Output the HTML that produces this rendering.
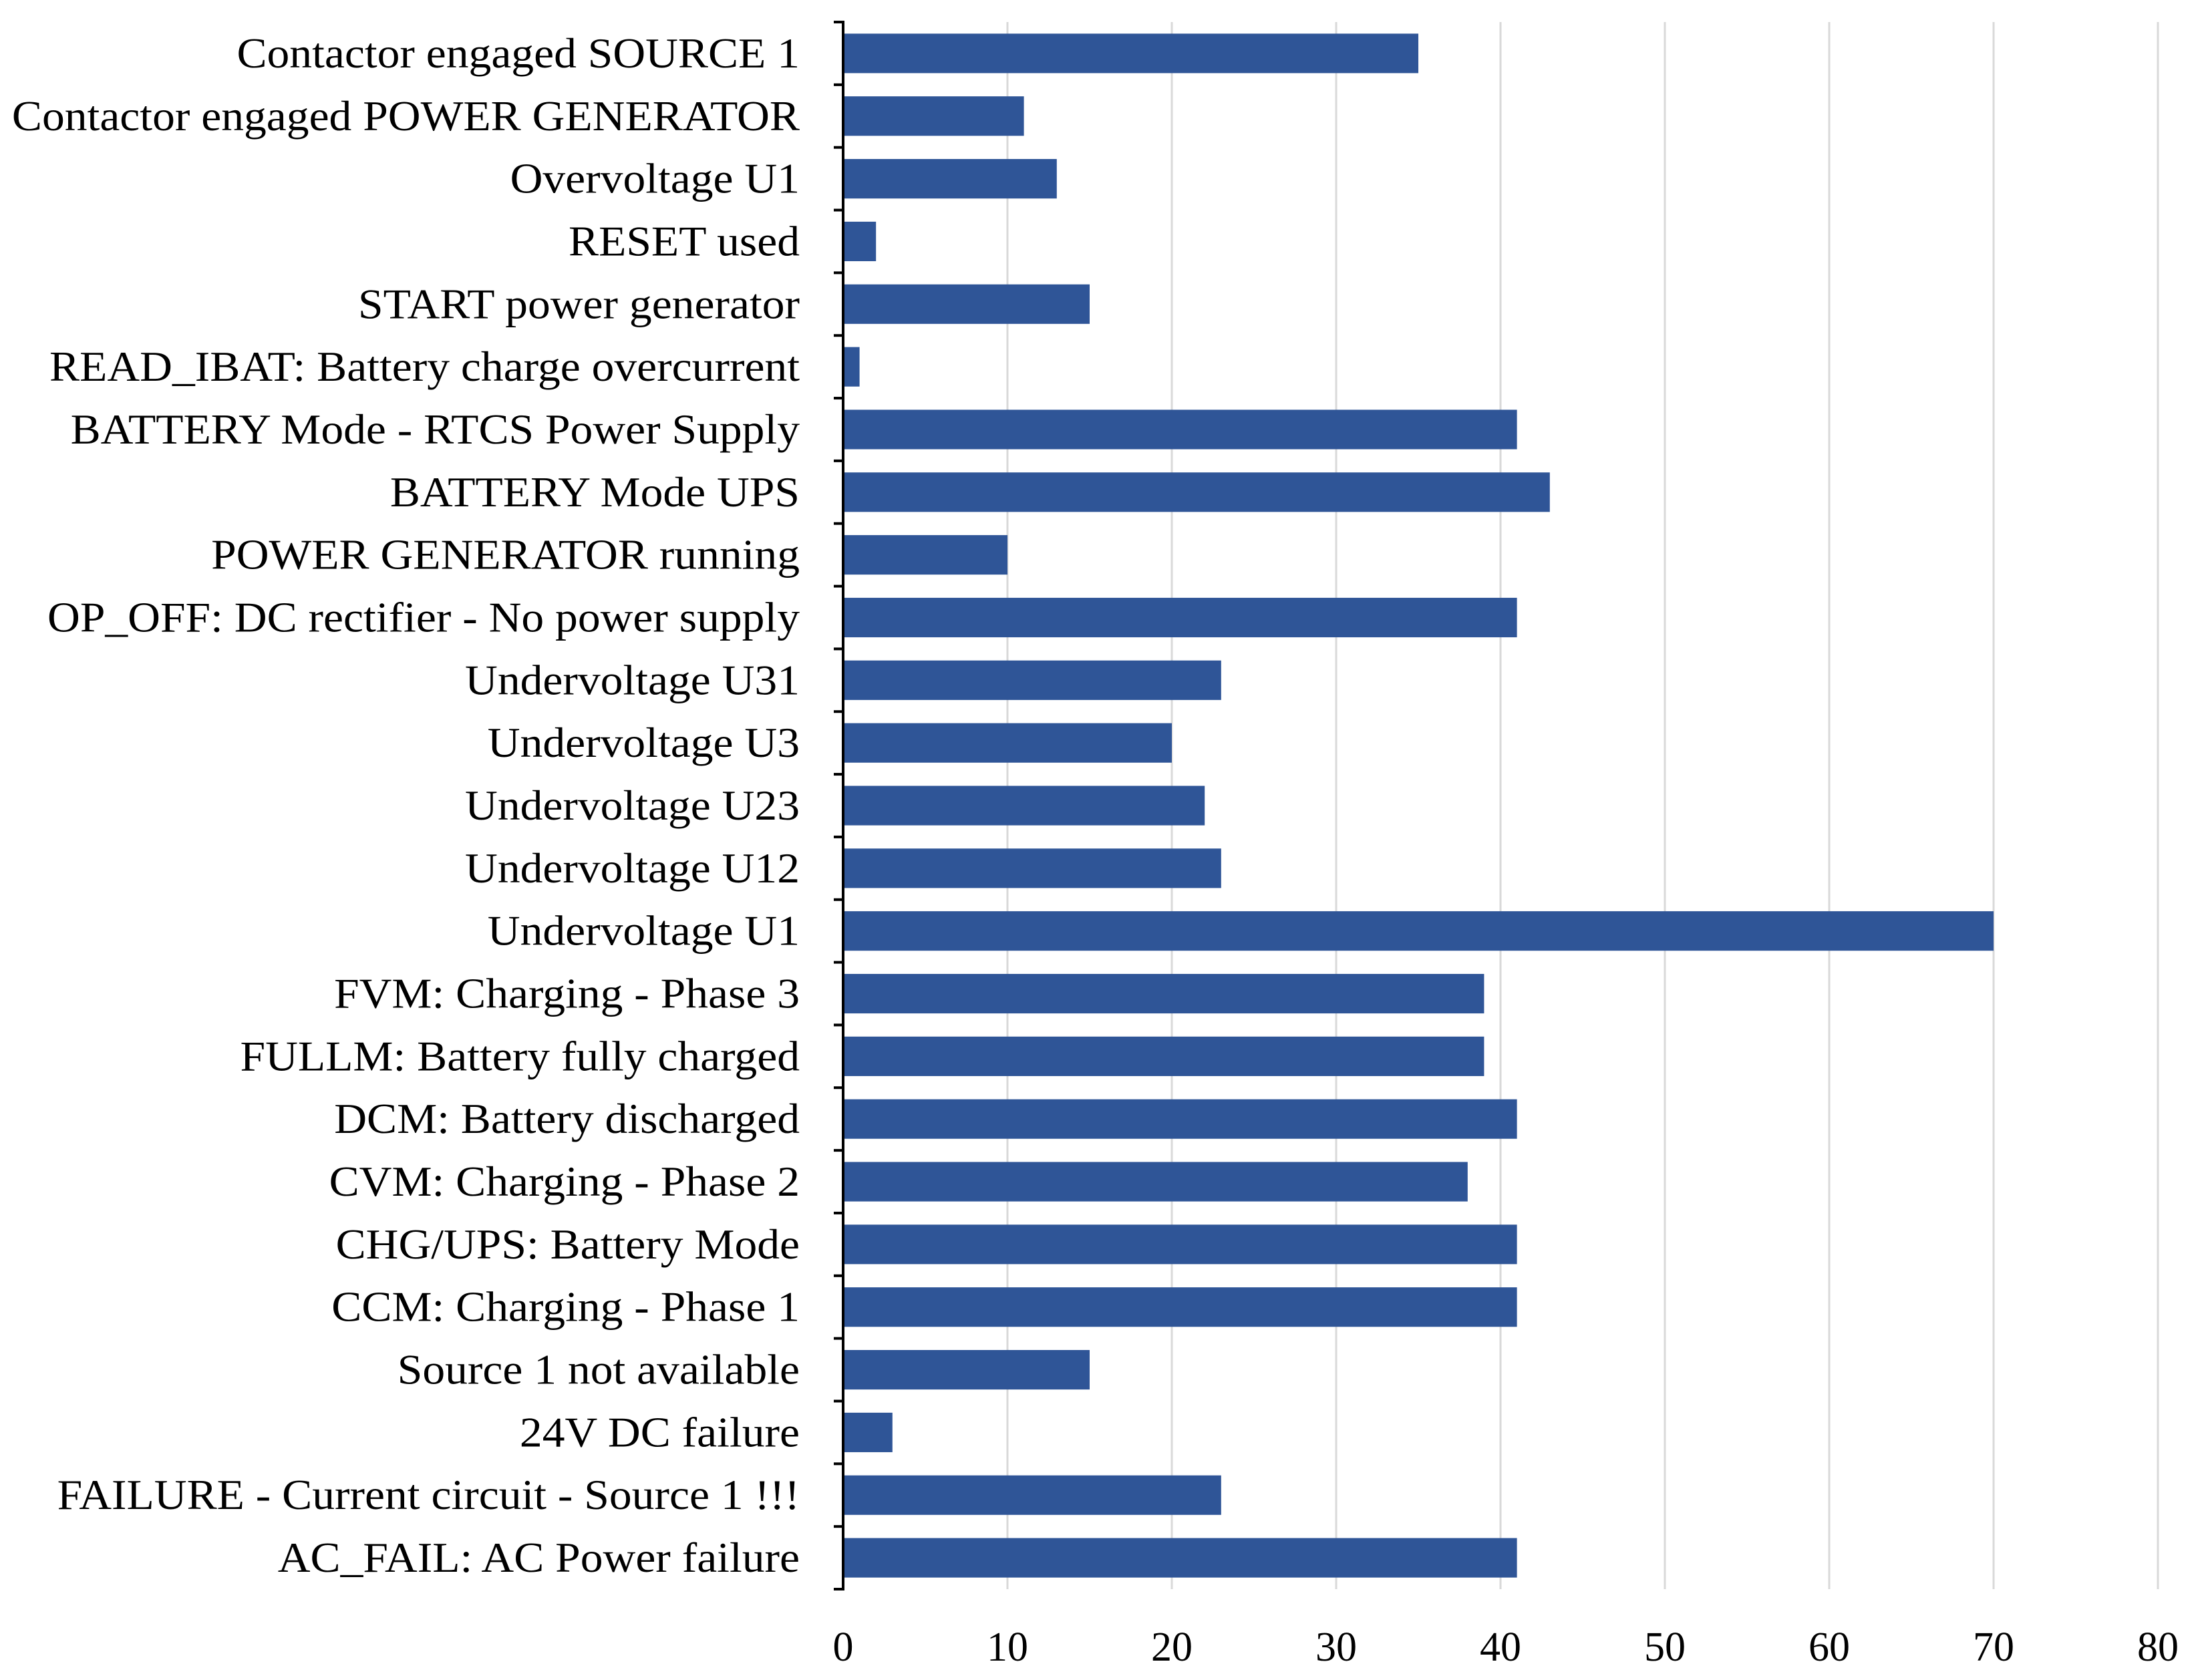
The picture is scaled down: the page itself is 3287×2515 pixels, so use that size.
<!DOCTYPE html>
<html><head><meta charset="utf-8"><style>
html,body{margin:0;padding:0;background:#fff;}
svg{display:block;}
text{font-family:"Liberation Serif",serif;fill:#000;}
</style></head><body>
<svg id="chart" width="3287" height="2515" xmlns="http://www.w3.org/2000/svg">
<g id="grid"></g>
<g id="bars"></g>
<g id="axis"></g>
<g id="ylabels"></g>
<g id="xlabels"></g>
</svg>
<script>
const categories = ["Contactor engaged SOURCE 1","Contactor engaged POWER GENERATOR","Overvoltage U1","RESET used","START power generator","READ_IBAT: Battery charge overcurrent","BATTERY Mode - RTCS Power Supply","BATTERY Mode UPS","POWER GENERATOR running","OP_OFF: DC rectifier - No power supply","Undervoltage U31","Undervoltage U3","Undervoltage U23","Undervoltage U12","Undervoltage U1","FVM: Charging - Phase 3","FULLM: Battery fully charged","DCM: Battery discharged","CVM: Charging - Phase 2","CHG/UPS: Battery Mode","CCM: Charging - Phase 1","Source 1 not available","24V DC failure","FAILURE - Current circuit - Source 1 !!!","AC_FAIL: AC Power failure"];
const values = [35,11,13,2,15,1,41,43,10,41,23,20,22,23,70,39,39,41,38,41,41,15,3,23,41];
const xTicks = [0,10,20,30,40,50,60,70,80];

const NS="http://www.w3.org/2000/svg";
const X0=1262, X1=3230, Y0=33, Y1=2379, XMAX=80;
const band=(Y1-Y0)/categories.length;
const xs=v=>X0+(v/XMAX)*(X1-X0);
const yb=i=>Y0+i*band;
function mk(tag,attrs,parent){const e=document.createElementNS(NS,tag);for(const k in attrs)e.setAttribute(k,attrs[k]);parent.appendChild(e);return e;}
const grid=document.getElementById('grid'),bars=document.getElementById('bars'),axis=document.getElementById('axis'),yl=document.getElementById('ylabels'),xl=document.getElementById('xlabels');

xTicks.forEach(t=>{
  if(t>0){const g=mk('line',{x1:xs(t),x2:xs(t),y1:Y0,y2:Y1,stroke:'#d9d9d9','stroke-width':3},grid);
  
  }
  const tx=mk('text',{x:xs(t),y:2486,'font-size':62,'text-anchor':'middle',transform:`translate(${xs(t)},0) scale(1.0,1) translate(${-xs(t)},0)`},xl);
  tx.textContent=t;
  
  
});

categories.forEach((c,i)=>{
  const bh=band*0.63, y=yb(i)+(band-bh)/2;
  const r=mk('rect',{x:X0,y:y,width:xs(values[i])-X0,height:bh,fill:'#2f5597'},bars);
  
  
  const ax=1197, ty=yb(i)+band/2+21;
  const t=mk('text',{x:ax,y:ty,'font-size':64,'text-anchor':'end',transform:`translate(${ax},0) scale(1.056,1) translate(${-ax},0)`},yl);
  t.textContent=c;
  
  
});

for(let i=0;i<=categories.length;i++){
  const tk=mk('line',{x1:X0-14,x2:X0,y1:yb(i),y2:yb(i),stroke:'#000','stroke-width':4},axis);
  
  
}
const al=mk('line',{x1:X0,x2:X0,y1:Y0-2,y2:Y1+2,stroke:'#000','stroke-width':4},axis);


</script>
</body></html>
